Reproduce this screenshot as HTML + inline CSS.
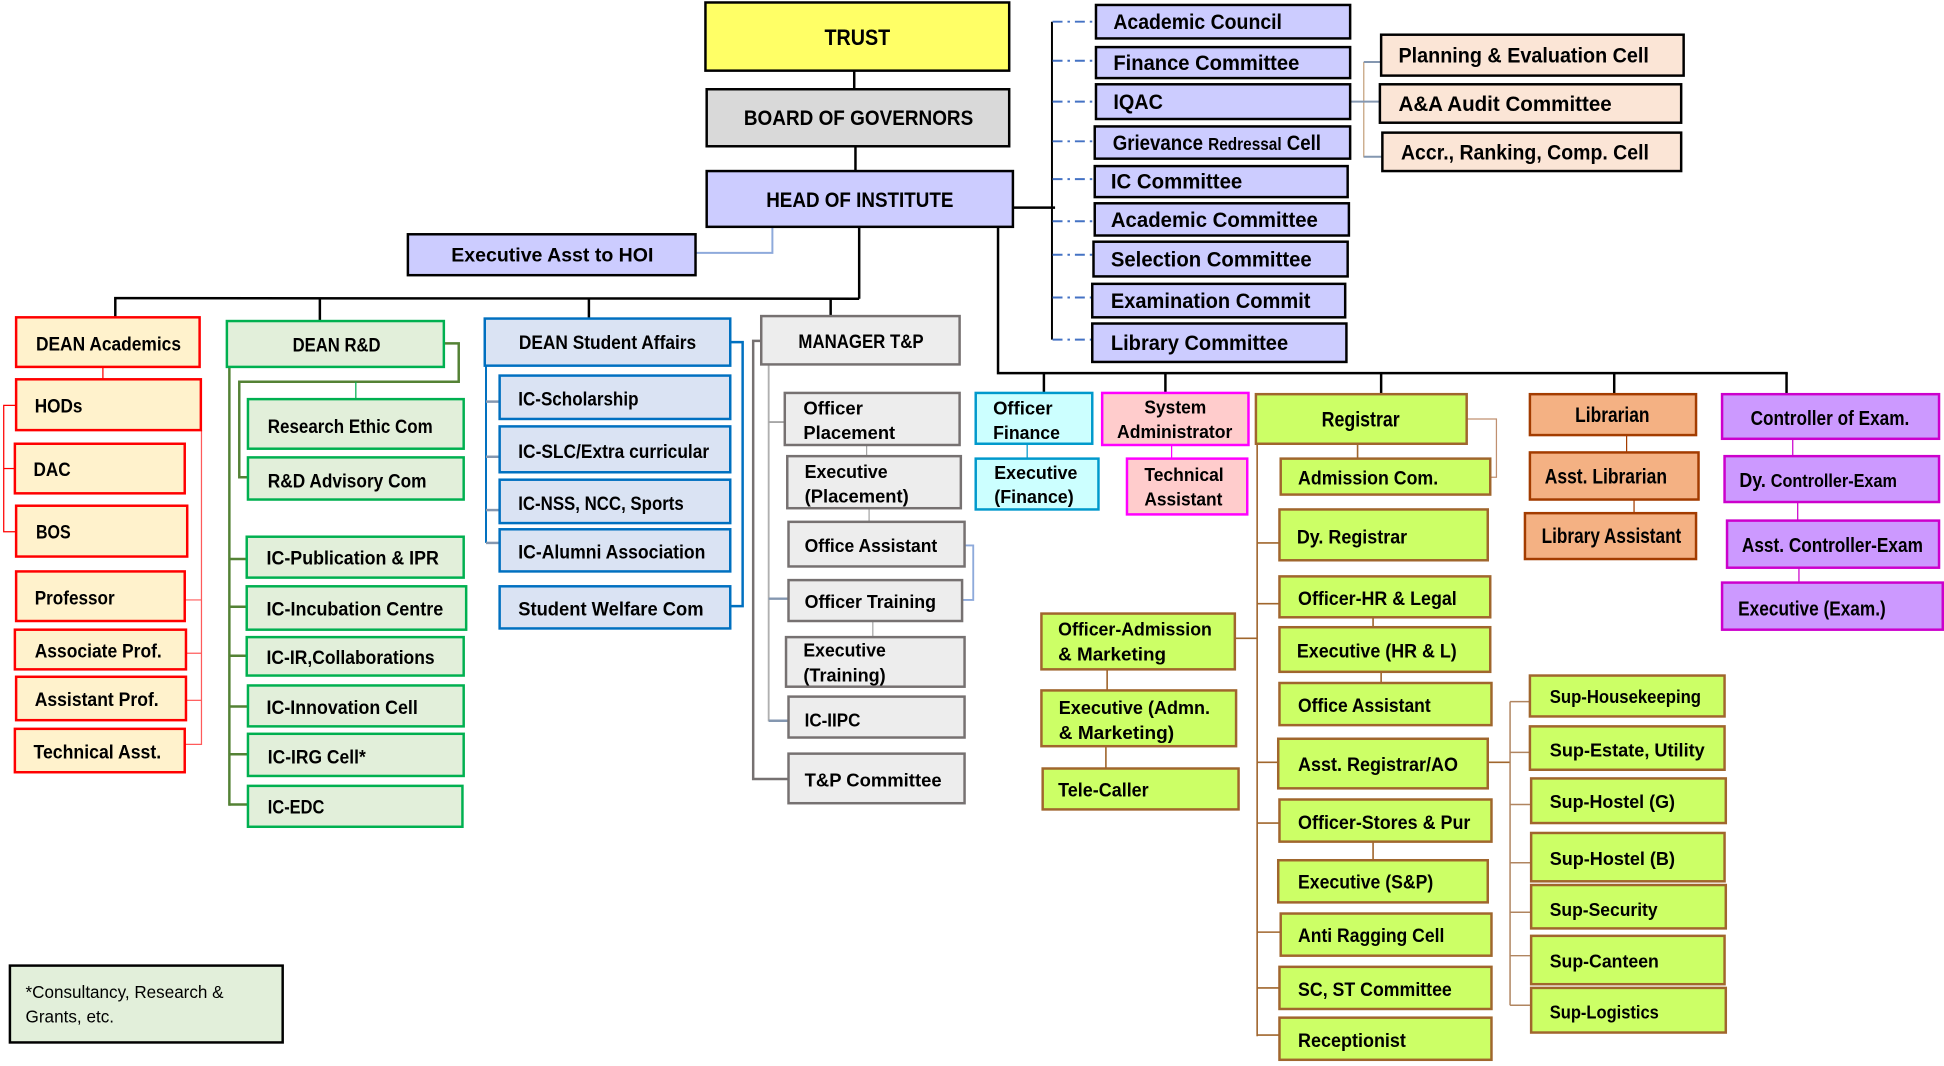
<!DOCTYPE html>
<html>
<head>
<meta charset="utf-8">
<style>
html,body{margin:0;padding:0;background:#fff;overflow:hidden;}
svg{display:block;}
text{font-family:"Liberation Sans",Arial,sans-serif;font-weight:bold;fill:#000;}
</style>
</head>
<body>
<svg xmlns="http://www.w3.org/2000/svg" width="1944" height="1066" viewBox="0 0 1568 860" preserveAspectRatio="none">
<rect x="0" y="0" width="1568" height="860" fill="#fff"/>

<!-- ===== CONNECTORS ===== -->
<g fill="none" stroke-linejoin="miter">
  <!-- main black -->
  <g stroke="#000" stroke-width="2">
    <line x1="689" y1="57" x2="689" y2="72"/>
    <line x1="690" y1="118" x2="690" y2="138"/>
    <line x1="693" y1="183" x2="693" y2="241"/>
    <polyline points="93,256 93,240.5 693,241"/>
    <line x1="258" y1="240.5" x2="258" y2="259"/>
    <line x1="475" y1="241" x2="475" y2="257"/>
    <line x1="670" y1="241" x2="670" y2="255"/>
    <line x1="817" y1="167.5" x2="851" y2="167.5"/>
    <polyline points="805,183 805,301 1442,301"/>
    <line x1="842" y1="301" x2="842" y2="317"/>
    <line x1="940" y1="301" x2="940" y2="317"/>
    <line x1="1114" y1="301" x2="1114" y2="318"/>
    <line x1="1302" y1="301" x2="1302" y2="318"/>
    <line x1="1441" y1="301" x2="1441" y2="318"/>
  </g>
  <line x1="848.5" y1="17.5" x2="848.5" y2="274" stroke="#000" stroke-width="1.6"/>
  <!-- committee dash-dot -->
  <g stroke="#4472c4" stroke-width="1.6" stroke-dasharray="8,4,2,4">
    <line x1="849" y1="17.5" x2="884" y2="17.5"/>
    <line x1="849" y1="49" x2="884" y2="49"/>
    <line x1="849" y1="82" x2="884" y2="82"/>
    <line x1="849" y1="114" x2="883" y2="114"/>
    <line x1="849" y1="144.5" x2="883" y2="144.5"/>
    <line x1="849" y1="178.5" x2="883" y2="178.5"/>
    <line x1="849" y1="205.5" x2="882" y2="205.5"/>
    <line x1="849" y1="240" x2="881" y2="240"/>
    <line x1="849" y1="274" x2="881" y2="274"/>
  </g>
  <!-- exec asst -->
  <polyline points="561,204 623,204 623,183" stroke="#8eaadb" stroke-width="1.6"/>
  <!-- peach -->
  <line x1="1100" y1="50" x2="1100" y2="127" stroke="#c4a07c" stroke-width="1"/>
  <g stroke="#8497b0" stroke-width="1.6">
    <line x1="1089" y1="82" x2="1113" y2="82"/>
    <line x1="1100" y1="50" x2="1114" y2="50"/>
    <line x1="1100" y1="126.5" x2="1115" y2="126.5"/>
  </g>
  <!-- academics red -->
  <g stroke="#ff0000" stroke-width="1">
    <line x1="83" y1="296" x2="83" y2="306"/>
    <polyline points="13,327 3,327 3,429 13,429"/>
    <line x1="3" y1="378" x2="12" y2="378"/>
  </g>
  <g stroke="#ff5a5a" stroke-width="1">
    <line x1="162.5" y1="347" x2="162.5" y2="601"/>
    <line x1="149" y1="484" x2="162.5" y2="484"/>
    <line x1="150" y1="527" x2="162.5" y2="527"/>
    <line x1="150" y1="565" x2="162.5" y2="565"/>
    <line x1="149" y1="600.5" x2="162.5" y2="600.5"/>
  </g>
  <!-- R&D green -->
  <g stroke="#548235" stroke-width="2">
    <polyline points="358,277 370,277 370,308 193,308 193,385 200,385"/>
    <line x1="185" y1="296" x2="185" y2="650"/>
    <line x1="185" y1="451" x2="199" y2="451"/>
    <line x1="185" y1="489.5" x2="199" y2="489.5"/>
    <line x1="185" y1="529" x2="199" y2="529"/>
    <line x1="185" y1="570" x2="200" y2="570"/>
    <line x1="185" y1="608.5" x2="200" y2="608.5"/>
    <line x1="185" y1="649" x2="200" y2="649"/>
  </g>
  <line x1="287" y1="308" x2="287" y2="322" stroke="#00b050" stroke-width="1"/>
  <!-- student affairs -->
  <line x1="392" y1="295" x2="392" y2="438" stroke="#0070c0" stroke-width="1.6"/>
  <g stroke="#8497b0" stroke-width="2">
    <line x1="392" y1="324" x2="403" y2="324"/>
    <line x1="392" y1="368.5" x2="403" y2="368.5"/>
    <line x1="392" y1="411.5" x2="403" y2="411.5"/>
    <line x1="392" y1="438" x2="403" y2="438"/>
  </g>
  <polyline points="589,276 599,276 599,489 589,489" stroke="#0070c0" stroke-width="2"/>
  <!-- T&P -->
  <polyline points="615,275 607.5,275 607.5,628.5 636,628.5" stroke="#767171" stroke-width="2"/>
  <line x1="620" y1="294" x2="620" y2="582" stroke="#b0b0b0" stroke-width="1.5"/>
  <line x1="620" y1="340.5" x2="633" y2="340.5" stroke="#a6a6a6" stroke-width="1.5"/>
  <line x1="620" y1="483" x2="636" y2="483" stroke="#8497b0" stroke-width="2"/>
  <line x1="620" y1="581.5" x2="636" y2="581.5" stroke="#8497b0" stroke-width="2"/>
  <g stroke="#a6a6a6" stroke-width="1">
    <line x1="699" y1="359" x2="699" y2="368"/>
    <line x1="701" y1="410" x2="701" y2="421"/>
    <line x1="704" y1="501" x2="704" y2="514"/>
  </g>
  <polyline points="778,440 785,440 785,484 776,484" stroke="#8eaadb" stroke-width="1.5"/>
  <!-- finance / sysadmin -->
  <line x1="828.5" y1="358" x2="828.5" y2="370" stroke="#0099cc" stroke-width="1"/>
  <line x1="945" y1="359" x2="945" y2="370" stroke="#ff00ff" stroke-width="1"/>
  <!-- registrar -->
  <g stroke="#a0662d" stroke-width="1.3">
    <line x1="1014" y1="358" x2="1014" y2="836"/>
    <line x1="1014" y1="438" x2="1032" y2="438"/>
    <line x1="1014" y1="487" x2="1032" y2="487"/>
    <line x1="996" y1="515" x2="1014" y2="515"/>
    <line x1="1014" y1="615" x2="1031" y2="615"/>
    <line x1="1014" y1="664" x2="1032" y2="664"/>
    <line x1="1014" y1="752" x2="1033" y2="752"/>
    <line x1="1014" y1="797" x2="1032" y2="797"/>
    <line x1="1014" y1="835" x2="1032" y2="835"/>
    <line x1="1095" y1="358" x2="1095" y2="370"/>
    <line x1="1107.5" y1="498" x2="1107.5" y2="506"/>
    <line x1="1114" y1="542" x2="1114" y2="551"/>
    <line x1="1107.5" y1="679" x2="1107.5" y2="694"/>
    <line x1="893" y1="540" x2="893" y2="557"/>
    <line x1="892" y1="602" x2="892" y2="620"/>
    <line x1="1200" y1="615" x2="1218" y2="615"/>
  </g>
  <polyline points="1183,338 1207,338 1207,385 1202,385" stroke="#c09070" stroke-width="1"/>
  <g stroke="#b08560" stroke-width="1.2">
    <line x1="1218" y1="566" x2="1218" y2="811"/>
    <line x1="1218" y1="566" x2="1234" y2="566"/>
    <line x1="1218" y1="607" x2="1234" y2="607"/>
    <line x1="1218" y1="649" x2="1235" y2="649"/>
    <line x1="1218" y1="696" x2="1235" y2="696"/>
    <line x1="1218" y1="736" x2="1235" y2="736"/>
    <line x1="1218" y1="771" x2="1235" y2="771"/>
    <line x1="1218" y1="811" x2="1235" y2="811"/>
  </g>
  <!-- librarian -->
  <g stroke="#a33c00" stroke-width="1">
    <line x1="1312" y1="351" x2="1312" y2="365"/>
    <line x1="1318" y1="403" x2="1318" y2="414"/>
  </g>
  <!-- controller -->
  <g stroke="#cc00cc" stroke-width="1">
    <line x1="1446" y1="354" x2="1446" y2="368"/>
    <line x1="1450" y1="405" x2="1450" y2="420"/>
    <line x1="1451" y1="458" x2="1451" y2="470"/>
  </g>
</g>

<!-- ===== BOXES ===== -->
<g stroke-width="2">
  <rect x="569" y="2" width="245" height="55" fill="#ffff66" stroke="#000"/>
  <rect x="570" y="72" width="244" height="46" fill="#d9d9d9" stroke="#000"/>
  <rect x="570" y="138" width="247" height="45" fill="#ccccff" stroke="#000"/>
  <rect x="329" y="189" width="232" height="33" fill="#ccccff" stroke="#000"/>

  <g fill="#ccccff" stroke="#000">
    <rect x="884" y="4" width="205" height="27"/>
    <rect x="884" y="38" width="205" height="25"/>
    <rect x="884" y="68" width="205" height="28"/>
    <rect x="883" y="102" width="206" height="26"/>
    <rect x="883" y="134" width="204" height="25"/>
    <rect x="883" y="164" width="205" height="26"/>
    <rect x="882" y="195" width="205" height="28"/>
    <rect x="881" y="229" width="204" height="27"/>
    <rect x="881" y="261" width="205" height="31"/>
  </g>
  <g fill="#fbe5d6" stroke="#000">
    <rect x="1114" y="28" width="244" height="33"/>
    <rect x="1113" y="68" width="243" height="31"/>
    <rect x="1115" y="107" width="241" height="31"/>
  </g>

  <g fill="#fff2cc" stroke="#ff0000">
    <rect x="13" y="256" width="148" height="40"/>
    <rect x="13" y="306" width="149" height="41"/>
    <rect x="12" y="358" width="137" height="40"/>
    <rect x="13" y="408" width="138" height="41"/>
    <rect x="13" y="461" width="136" height="40"/>
    <rect x="12" y="508" width="138" height="32"/>
    <rect x="13" y="546" width="137" height="35"/>
    <rect x="12" y="588" width="137" height="35"/>
  </g>

  <g fill="#e2efda" stroke="#00b050">
    <rect x="183" y="259" width="175" height="37"/>
    <rect x="200" y="322" width="174" height="40"/>
    <rect x="200" y="369" width="174" height="34"/>
    <rect x="199" y="433" width="175" height="33"/>
    <rect x="199" y="473" width="177" height="35"/>
    <rect x="199" y="514" width="175" height="31"/>
    <rect x="200" y="553" width="174" height="33"/>
    <rect x="200" y="592" width="174" height="34"/>
    <rect x="200" y="634" width="173" height="33"/>
  </g>

  <g fill="#dae3f3" stroke="#0070c0">
    <rect x="391" y="257" width="198" height="38"/>
    <rect x="403" y="303" width="186" height="35"/>
    <rect x="403" y="344" width="186" height="37"/>
    <rect x="403" y="387" width="186" height="35"/>
    <rect x="403" y="427" width="186" height="34"/>
    <rect x="403" y="473" width="186" height="34"/>
  </g>

  <g fill="#ededed" stroke="#767171">
    <rect x="614" y="255" width="160" height="39"/>
    <rect x="633" y="317" width="141" height="42"/>
    <rect x="635" y="368" width="140" height="42"/>
    <rect x="636" y="421" width="142" height="36"/>
    <rect x="636" y="468" width="140" height="33"/>
    <rect x="634" y="514" width="144" height="40"/>
    <rect x="636" y="562" width="142" height="33"/>
    <rect x="636" y="608" width="142" height="40"/>
  </g>

  <g fill="#ccffff" stroke="#0099cc">
    <rect x="787" y="317" width="94" height="41"/>
    <rect x="787" y="370" width="99" height="41"/>
  </g>
  <g fill="#ffcccc" stroke="#ff00ff">
    <rect x="889" y="317" width="118" height="42"/>
    <rect x="909" y="370" width="97" height="45"/>
  </g>

  <g fill="#ccff66" stroke="#a0662d">
    <rect x="1013" y="318" width="170" height="40"/>
    <rect x="1033" y="370" width="169" height="29"/>
    <rect x="1032" y="411" width="168" height="41"/>
    <rect x="1032" y="465" width="170" height="33"/>
    <rect x="1032" y="506" width="170" height="36"/>
    <rect x="1032" y="551" width="171" height="34"/>
    <rect x="1031" y="596" width="169" height="40"/>
    <rect x="1032" y="645" width="171" height="34"/>
    <rect x="1031" y="694" width="169" height="34"/>
    <rect x="1033" y="737" width="170" height="34"/>
    <rect x="1032" y="780" width="171" height="34"/>
    <rect x="1032" y="821" width="171" height="34"/>
    <rect x="840" y="495" width="156" height="45"/>
    <rect x="840" y="557" width="157" height="45"/>
    <rect x="841" y="620" width="158" height="33"/>
    <rect x="1234" y="545" width="157" height="33"/>
    <rect x="1234" y="586" width="157" height="35"/>
    <rect x="1235" y="628" width="157" height="36"/>
    <rect x="1235" y="672" width="156" height="39"/>
    <rect x="1235" y="714" width="157" height="35"/>
    <rect x="1235" y="755" width="156" height="39"/>
    <rect x="1235" y="797" width="157" height="36"/>
  </g>

  <g fill="#f4b183" stroke="#a33c00">
    <rect x="1234" y="318" width="134" height="33"/>
    <rect x="1234" y="365" width="136" height="38"/>
    <rect x="1230" y="414" width="138" height="37"/>
  </g>

  <g fill="#cc99ff" stroke="#cc00cc">
    <rect x="1389" y="318" width="175" height="36"/>
    <rect x="1391" y="368" width="173" height="37"/>
    <rect x="1393" y="420" width="171" height="38"/>
    <rect x="1389" y="470" width="178" height="38"/>
  </g>

  <rect x="8" y="779" width="220" height="62" fill="#e2efda" stroke="#000"/>
</g>

<!-- ===== TEXT ===== -->
<g>
  <text x="665" y="36.3" font-size="18" textLength="53" lengthAdjust="spacingAndGlyphs">TRUST</text>
  <text x="600" y="101" font-size="17" textLength="185" lengthAdjust="spacingAndGlyphs">BOARD OF GOVERNORS</text>
  <text x="618" y="167" font-size="17" textLength="151" lengthAdjust="spacingAndGlyphs">HEAD OF INSTITUTE</text>
  <text x="364" y="211" font-size="16" textLength="163" lengthAdjust="spacingAndGlyphs">Executive Asst to HOI</text>

  <g font-size="17">
    <text x="898" y="23.5" textLength="136" lengthAdjust="spacingAndGlyphs">Academic Council</text>
    <text x="898" y="56.5" textLength="150" lengthAdjust="spacingAndGlyphs">Finance Committee</text>
    <text x="898" y="88" textLength="40" lengthAdjust="spacingAndGlyphs">IQAC</text>
    <text x="897.5" y="121" textLength="168" lengthAdjust="spacingAndGlyphs">Grievance <tspan font-size="14">Redressal</tspan> Cell</text>
    <text x="896" y="152" textLength="106" lengthAdjust="spacingAndGlyphs">IC Committee</text>
    <text x="896" y="183" textLength="167" lengthAdjust="spacingAndGlyphs">Academic Committee</text>
    <text x="896" y="215" textLength="162" lengthAdjust="spacingAndGlyphs">Selection Committee</text>
    <text x="896" y="248.5" textLength="161" lengthAdjust="spacingAndGlyphs">Examination Commit</text>
    <text x="896" y="282.5" textLength="143" lengthAdjust="spacingAndGlyphs">Library Committee</text>
    <text x="1128" y="50.5" textLength="202" lengthAdjust="spacingAndGlyphs">Planning &amp; Evaluation Cell</text>
    <text x="1128" y="89.5" textLength="172" lengthAdjust="spacingAndGlyphs">A&amp;A Audit Committee</text>
    <text x="1130" y="128.5" textLength="200" lengthAdjust="spacingAndGlyphs">Accr., Ranking, Comp. Cell</text>
  </g>

  <!-- Academics -->
  <text x="29" y="282.6" font-size="16" textLength="117" lengthAdjust="spacingAndGlyphs">DEAN Academics</text>
  <g font-size="15.5">
    <text x="28" y="332.8" textLength="38.5" lengthAdjust="spacingAndGlyphs">HODs</text>
    <text x="27" y="384" textLength="30" lengthAdjust="spacingAndGlyphs">DAC</text>
    <text x="29" y="434.5" textLength="28" lengthAdjust="spacingAndGlyphs">BOS</text>
    <text x="28" y="487.7" textLength="64.5" lengthAdjust="spacingAndGlyphs">Professor</text>
    <text x="28" y="530.5" textLength="102.5" lengthAdjust="spacingAndGlyphs">Associate Prof.</text>
    <text x="28" y="569.5" textLength="100" lengthAdjust="spacingAndGlyphs">Assistant Prof.</text>
    <text x="27" y="612" textLength="103" lengthAdjust="spacingAndGlyphs">Technical Asst.</text>
  </g>

  <!-- R&D -->
  <text x="236" y="283.4" font-size="16" textLength="71" lengthAdjust="spacingAndGlyphs">DEAN R&amp;D</text>
  <g font-size="15.5">
    <text x="216" y="349.2" textLength="133" lengthAdjust="spacingAndGlyphs">Research Ethic Com</text>
    <text x="216" y="393.3" textLength="128" lengthAdjust="spacingAndGlyphs">R&amp;D Advisory Com</text>
    <text x="215" y="455.5" textLength="139" lengthAdjust="spacingAndGlyphs">IC-Publication &amp; IPR</text>
    <text x="215" y="496.5" textLength="142.5" lengthAdjust="spacingAndGlyphs">IC-Incubation Centre</text>
    <text x="215" y="535.8" textLength="135.6" lengthAdjust="spacingAndGlyphs">IC-IR,Collaborations</text>
    <text x="215" y="576" textLength="122" lengthAdjust="spacingAndGlyphs">IC-Innovation Cell</text>
    <text x="216" y="616" textLength="79" lengthAdjust="spacingAndGlyphs">IC-IRG Cell*</text>
    <text x="216" y="656.3" textLength="45.6" lengthAdjust="spacingAndGlyphs">IC-EDC</text>
  </g>

  <!-- Student Affairs -->
  <text x="418.5" y="281.6" font-size="16" textLength="143" lengthAdjust="spacingAndGlyphs">DEAN Student Affairs</text>
  <g font-size="15.5">
    <text x="418" y="327.2" textLength="97" lengthAdjust="spacingAndGlyphs">IC-Scholarship</text>
    <text x="418" y="369.4" textLength="154" lengthAdjust="spacingAndGlyphs">IC-SLC/Extra curricular</text>
    <text x="418" y="411.5" textLength="133.5" lengthAdjust="spacingAndGlyphs">IC-NSS, NCC, Sports</text>
    <text x="418" y="450.5" textLength="151" lengthAdjust="spacingAndGlyphs">IC-Alumni Association</text>
    <text x="418" y="496.5" textLength="149.5" lengthAdjust="spacingAndGlyphs">Student Welfare Com</text>
  </g>

  <!-- T&P -->
  <text x="644" y="280.8" font-size="16" textLength="101" lengthAdjust="spacingAndGlyphs">MANAGER T&amp;P</text>
  <g font-size="15">
    <text x="648" y="334.5" textLength="48" lengthAdjust="spacingAndGlyphs">Officer</text>
    <text x="648" y="354" textLength="74" lengthAdjust="spacingAndGlyphs">Placement</text>
    <text x="649" y="385.5" textLength="67" lengthAdjust="spacingAndGlyphs">Executive</text>
    <text x="649" y="405.5" textLength="84" lengthAdjust="spacingAndGlyphs">(Placement)</text>
    <text x="649" y="445.5" textLength="107" lengthAdjust="spacingAndGlyphs">Office Assistant</text>
    <text x="649" y="490.7" textLength="106" lengthAdjust="spacingAndGlyphs">Officer Training</text>
    <text x="648" y="529.7" textLength="66.5" lengthAdjust="spacingAndGlyphs">Executive</text>
    <text x="648" y="550" textLength="66.4" lengthAdjust="spacingAndGlyphs">(Training)</text>
    <text x="649" y="586" textLength="45" lengthAdjust="spacingAndGlyphs">IC-IIPC</text>
    <text x="649" y="634.6" textLength="110.5" lengthAdjust="spacingAndGlyphs">T&amp;P Committee</text>
  </g>

  <!-- Finance / SysAdmin -->
  <g font-size="15">
    <text x="801" y="334.5" textLength="48" lengthAdjust="spacingAndGlyphs">Officer</text>
    <text x="801" y="354" textLength="54" lengthAdjust="spacingAndGlyphs">Finance</text>
    <text x="802" y="386.5" textLength="67" lengthAdjust="spacingAndGlyphs">Executive</text>
    <text x="802" y="406" textLength="64" lengthAdjust="spacingAndGlyphs">(Finance)</text>
    <text x="923" y="333.5" textLength="50" lengthAdjust="spacingAndGlyphs">System</text>
    <text x="901" y="353.5" textLength="93" lengthAdjust="spacingAndGlyphs">Administrator</text>
    <text x="923" y="388" textLength="64" lengthAdjust="spacingAndGlyphs">Technical</text>
    <text x="923" y="408" textLength="63" lengthAdjust="spacingAndGlyphs">Assistant</text>
  </g>

  <!-- Registrar -->
  <text x="1066" y="344" font-size="17" textLength="63" lengthAdjust="spacingAndGlyphs">Registrar</text>
  <g font-size="15.5">
    <text x="1047" y="391" textLength="113" lengthAdjust="spacingAndGlyphs">Admission  Com.</text>
    <text x="1046" y="438.5" textLength="89" lengthAdjust="spacingAndGlyphs">Dy. Registrar</text>
    <text x="1047" y="488" textLength="128" lengthAdjust="spacingAndGlyphs">Officer-HR &amp; Legal</text>
    <text x="1046" y="530.5" textLength="129" lengthAdjust="spacingAndGlyphs">Executive (HR &amp; L)</text>
    <text x="1047" y="574.5" textLength="107" lengthAdjust="spacingAndGlyphs">Office Assistant</text>
    <text x="1047" y="622" textLength="129" lengthAdjust="spacingAndGlyphs">Asst. Registrar/AO</text>
    <text x="1047" y="669" textLength="139" lengthAdjust="spacingAndGlyphs">Officer-Stores &amp; Pur</text>
    <text x="1047" y="717" textLength="109" lengthAdjust="spacingAndGlyphs">Executive (S&amp;P)</text>
    <text x="1047" y="760" textLength="118" lengthAdjust="spacingAndGlyphs">Anti Ragging Cell</text>
    <text x="1047" y="803.5" textLength="124" lengthAdjust="spacingAndGlyphs">SC, ST Committee</text>
    <text x="1047" y="844.5" textLength="87" lengthAdjust="spacingAndGlyphs">Receptionist</text>
  </g>
  <g font-size="15">
    <text x="853.5" y="512.5" textLength="124" lengthAdjust="spacingAndGlyphs">Officer-Admission</text>
    <text x="853.5" y="533" textLength="87" lengthAdjust="spacingAndGlyphs">&amp; Marketing</text>
    <text x="854" y="576" textLength="122" lengthAdjust="spacingAndGlyphs">Executive (Admn.</text>
    <text x="854" y="596" textLength="93" lengthAdjust="spacingAndGlyphs">&amp; Marketing)</text>
    <text x="853.5" y="642.5" font-size="16" textLength="73" lengthAdjust="spacingAndGlyphs">Tele-Caller</text>
  </g>
  <g font-size="15">
    <text x="1250" y="567.3" textLength="122" lengthAdjust="spacingAndGlyphs">Sup-Housekeeping</text>
    <text x="1250" y="610.3" textLength="125" lengthAdjust="spacingAndGlyphs">Sup-Estate, Utility</text>
    <text x="1250" y="652" textLength="101" lengthAdjust="spacingAndGlyphs">Sup-Hostel  (G)</text>
    <text x="1250" y="698" textLength="101" lengthAdjust="spacingAndGlyphs">Sup-Hostel  (B)</text>
    <text x="1250" y="739" textLength="87" lengthAdjust="spacingAndGlyphs">Sup-Security</text>
    <text x="1250" y="780.5" textLength="88" lengthAdjust="spacingAndGlyphs">Sup-Canteen</text>
    <text x="1250" y="821.7" textLength="88" lengthAdjust="spacingAndGlyphs">Sup-Logistics</text>
  </g>

  <!-- Librarian -->
  <g font-size="17">
    <text x="1270.5" y="340.5" textLength="60" lengthAdjust="spacingAndGlyphs">Librarian</text>
    <text x="1246" y="390" textLength="98.6" lengthAdjust="spacingAndGlyphs">Asst. Librarian</text>
    <text x="1243.5" y="438" textLength="112.6" lengthAdjust="spacingAndGlyphs">Library Assistant</text>
  </g>

  <!-- Controller -->
  <g font-size="16.5">
    <text x="1412" y="343" textLength="128" lengthAdjust="spacingAndGlyphs">Controller of Exam.</text>
    <text x="1403" y="393" textLength="127" lengthAdjust="spacingAndGlyphs">Dy. <tspan font-size="15">Controller-Exam</tspan></text>
    <text x="1405" y="445.5" textLength="146" lengthAdjust="spacingAndGlyphs">Asst. Controller-Exam</text>
    <text x="1402" y="496.5" textLength="119" lengthAdjust="spacingAndGlyphs">Executive (Exam.)</text>
  </g>

  <!-- Footnote -->
  <g font-size="14" style="font-weight:normal">
    <text x="20.6" y="805" textLength="159.7" lengthAdjust="spacingAndGlyphs" style="font-weight:normal">*Consultancy, Research &amp;</text>
    <text x="20.6" y="825" textLength="71.4" lengthAdjust="spacingAndGlyphs" style="font-weight:normal">Grants, etc.</text>
  </g>
</g>
</svg>
</body>
</html>
